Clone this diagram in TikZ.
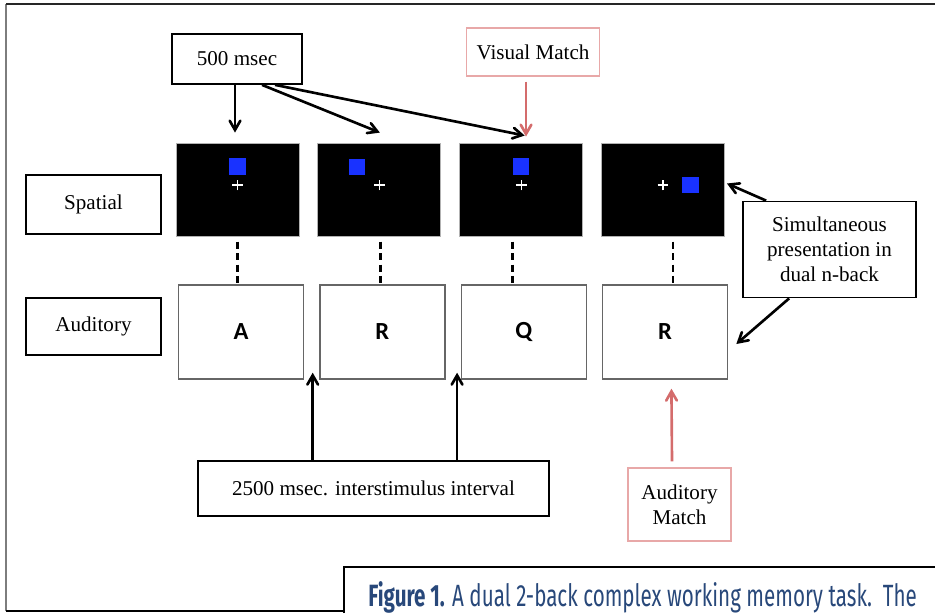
\documentclass[tikz,border=0pt]{standalone}
\usepackage{fontspec}
\setmainfont{Liberation Serif}
\newfontfamily\letterfont{Carlito}
\newfontfamily\capfont[FakeStretch=0.67]{Fira Sans}
\usepackage{xcolor}
\usepackage{tikz}
\usetikzlibrary{shapes.misc, arrows, positioning, calc}

\definecolor{matchred}{RGB}{212,108,108}
\definecolor{matchpink}{RGB}{232,168,168}
\definecolor{dotblue}{RGB}{25,50,255}
\definecolor{capblue}{RGB}{40,72,122}
\definecolor{framegray}{RGB}{125,125,125}

\begin{document}
\begin{tikzpicture}[
  x=0.02cm, y=-0.02cm,
  font=\fontsize{12}{14.2}\selectfont,
  label/.style={rectangle, draw, line width=1pt, align=center, inner sep=2pt},
  match/.style={rectangle, draw=matchpink, line width=0.8pt, align=center, inner sep=2pt},
  screen/.style={rectangle, fill=black, draw=gray!60, line width=0.5pt,
                 minimum width=2.46cm, minimum height=1.86cm},
  sound/.style={rectangle, draw=gray!80!black, line width=0.8pt, fill=white,
                minimum width=2.5cm, minimum height=1.88cm,
                font=\letterfont\bfseries\fontsize{14}{16}\selectfont},
  dot/.style={rectangle, fill=dotblue, minimum size=0.33cm, inner sep=0pt},
  fix/.style={cross out, rotate=45, draw=white, line width=0.8pt,
              minimum size=3.5pt, inner sep=0pt},
  arrow/.style={->, line width=1.5pt, >=angle 60},
  redarrow/.style={->, line width=1.5pt, >=angle 60, draw=matchred},
  link/.style={line width=1.5pt, dash pattern=on 4pt off 2.5pt, shorten <=3pt}
]
\useasboundingbox (0,0) rectangle (935,613);
\clip (0,0) rectangle (935,613);

% page frame and caption box
\draw[framegray, line width=1.2pt] (6,611) -- (6,4);
\draw[black!85, line width=1.2pt] (6,4) -- (935,4);
\draw[line width=1.2pt] (6,611) -- (344,611);
\draw[line width=1.2pt] (344,613) -- (344,567) -- (935,567);
\node[anchor=base west, inner sep=0pt, text=capblue,
      font=\capfont\fontsize{17.5}{20}\selectfont] (cap) at (368,606)
  {\textbf{Figure 1.} A dual 2-back complex working memory task.\ \ The};

% row labels
\node[label, minimum width=2.7cm, minimum height=1.18cm] (sp) at (93.5,204.5) {Spatial};
\node[label, minimum width=2.7cm, minimum height=1.14cm] (au) at (93.5,326.5) {Auditory};

% spatial screens
\node[screen] (s1) at (237.5,189.5) {};
\node[screen, right=0.36cm of s1] (s2) {};
\node[screen, right=0.36cm of s2] (s3) {};
\node[screen, right=0.36cm of s3] (s4) {};

\node[dot] (d1) at ($(s1.center)+(0,-23)$) {};
\node[fix] (f1) at ($(s1.center)+(0,-4.5)$) {};
\node[dot] (d2) at ($(s2.center)+(-22.5,-22.5)$) {};
\node[fix] (f2) at ($(s2.center)+(0,-4.5)$) {};
\node[dot] (d3) at ($(s3.center)+(0,-23)$) {};
\node[fix] (f3) at ($(s3.center)+(0,-4.5)$) {};
\node[dot] (d4) at ($(s4.center)+(27.5,-4.5)$) {};
\node[fix] (f4) at ($(s4.center)+(0,-4.5)$) {};

% auditory letters
\node[sound] (a1) at (241,332) {A};
\node[sound, right=0.3cm of a1] (a2) {R};
\node[sound, right=0.3cm of a2] (a3) {Q};
\node[sound, right=0.3cm of a3] (a4) {R};

% callouts
\node[label, minimum width=2.6cm, minimum height=1cm] (ms) at (237,59) {500 msec};
\node[match, minimum width=2.66cm, minimum height=0.96cm] (vm) at (533,52) {Visual Match};
\node[label, minimum width=3.46cm, minimum height=1.92cm] (sim) at (829.5,249.5)
  {Simultaneous\\presentation in\\dual n-back};
\node[label, minimum width=7.02cm, minimum height=1.1cm] (isi) at (373.5,488.5)
  {2500 msec. interstimulus interval};
\node[match, minimum width=2.06cm, minimum height=1.46cm] (am) at (679.5,504.5)
  {Auditory\\Match};

\coordinate (gap1) at ($(a1.south east)!0.5!(a2.south west)+(1,-7)$);
\coordinate (gap2) at ($(a2.south east)!0.5!(a3.south west)+(4,-7)$);

% spatial to auditory pairing
\draw[link] (s1.south) -- (s1.south |- a1.north);
\draw[link] ($(s2.south)+(1,0)$) -- ($(s2.south |- a2.north)+(1,0)$);
\draw[link] ($(s3.south)+(-9,0)$) -- ($(s3.south |- a3.north)+(-9,0)$);
\draw[link] ($(s4.south)+(10,0)$) -- ($(s4.south |- a4.north)+(10,0)$);

% arrows
\draw[arrow] ($(ms.south)+(-2,0)$) -- ($(s1.north)+(-2.5,-10)$);
\draw[arrow] ($(ms.south)+(25,0)$) -- ($(s2.north)+(0.5,-10)$);
\draw[arrow] ($(ms.south)+(38,0)$) -- ($(s3.north)+(3.5,-7)$);
\draw[redarrow] ($(vm.south)+(-7,5)$) -- ($(s3.north -| vm.south)+(-7,-6)$);
\draw[arrow] ($(sim.north west)+(24,0)$) -- ($(s4.east)+(2,-6)$);
\draw[arrow] ($(sim.south west)+(47,0)$) -- ($(a4.east)+(8,12)$);
\draw[arrow] (isi.north -| gap1) -- (gap1);
\draw[arrow] (isi.north -| gap2) -- (gap2);
\draw[redarrow] ($(am.north)+(-7.5,-6)$) -- ($(a4.south)+(6.3,9)$);

\end{tikzpicture}
\end{document}
